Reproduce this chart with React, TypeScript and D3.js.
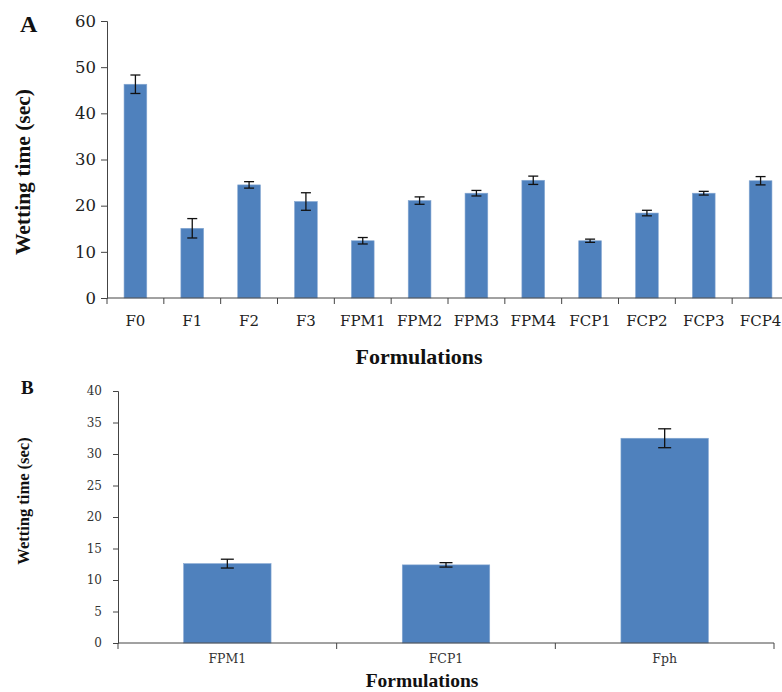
import React, { useEffect, useRef } from 'react';
import * as d3 from 'd3';

// panel A: all formulations
const catsA = ['F0', 'F1', 'F2', 'F3', 'FPM1', 'FPM2', 'FPM3', 'FPM4', 'FCP1', 'FCP2', 'FCP3', 'FCP4'];
const meansA = [46.3, 15.1, 24.5, 20.9, 12.4, 21.1, 22.7, 25.5, 12.4, 18.4, 22.7, 25.4];
const errA = [2.0, 2.1, 0.7, 1.9, 0.7, 0.8, 0.6, 0.9, 0.35, 0.6, 0.4, 0.9];
const ticksA = [0, 10, 20, 30, 40, 50, 60];

// panel B: optimised vs marketed
const catsB = ['FPM1', 'FCP1', 'Fph'];
const meansB = [12.6, 12.4, 32.5];
const errB = [0.7, 0.35, 1.5];
const ticksB = [0, 5, 10, 15, 20, 25, 30, 35, 40];

const BLUE = '#4f81bd';
const TIMES = '"Liberation Serif", serif';
const TICKF = '"DejaVu Serif", serif';

type Panel = {
  cats: string[];
  means: number[];
  errs: number[];
  ticks: number[];
  x0: number; x1: number; y0: number; y1: number;
  yFont: number; xFont: number; capW: number; yPad: number; yTick: number;
  xLabelY: number; tickColor: string;
};

function drawPanel(svg: d3.Selection<SVGSVGElement, unknown, null, undefined>, p: Panel) {
  const x = d3.scaleBand<string>().domain(p.cats).range([p.x0, p.x1]).padding(0);
  const y = d3.scaleLinear().domain([0, p.ticks[p.ticks.length - 1]]).range([p.y0, p.y1]);
  const bw = x.bandwidth();
  const g = svg.append('g');

  g.selectAll('rect.bar')
    .data(p.means)
    .enter()
    .append('rect')
    .attr('x', (_, i) => x(p.cats[i])! + bw * 0.3)
    .attr('width', bw * 0.4)
    .attr('y', (d) => y(d))
    .attr('height', (d) => y(0) - y(d))
    .attr('fill', BLUE)
    .attr('stroke', '#86a8d2')
    .attr('stroke-width', 0.6);

  // error bars
  const eb = g.selectAll('g.err').data(p.means).enter().append('g');
  eb.append('line')
    .attr('x1', (_, i) => x(p.cats[i])! + bw / 2)
    .attr('x2', (_, i) => x(p.cats[i])! + bw / 2)
    .attr('y1', (d, i) => y(d + p.errs[i]))
    .attr('y2', (d, i) => y(d - p.errs[i]))
    .attr('stroke', '#111').attr('stroke-width', 1.3);
  [1, -1].forEach((s) => {
    eb.append('line')
      .attr('x1', (_, i) => x(p.cats[i])! + bw / 2 - p.capW / 2)
      .attr('x2', (_, i) => x(p.cats[i])! + bw / 2 + p.capW / 2)
      .attr('y1', (d, i) => y(d + s * p.errs[i]))
      .attr('y2', (d, i) => y(d + s * p.errs[i]))
      .attr('stroke', '#111').attr('stroke-width', 1.3);
  });

  // y axis
  const ya = g.append('g')
    .attr('transform', `translate(${p.x0},0)`)
    .call(d3.axisLeft(y).tickValues(p.ticks).tickSize(p.yTick).tickPadding(p.yPad));
  ya.selectAll('path, line').attr('stroke', '#444');
  ya.selectAll('text').attr('font-family', TICKF).attr('font-size', p.yFont).attr('fill', p.tickColor);

  // x axis: line + boundary ticks, labels centred in bands
  g.append('line')
    .attr('x1', p.x0).attr('x2', p.x1).attr('y1', p.y0).attr('y2', p.y0)
    .attr('stroke', '#444');
  const bounds = p.cats.map((c) => x(c)!).concat([p.x1]);
  g.selectAll('line.bt').data(bounds).enter().append('line')
    .attr('x1', (d) => d).attr('x2', (d) => d)
    .attr('y1', p.y0).attr('y2', p.y0 + 6)
    .attr('stroke', '#444');
  g.selectAll('text.xl').data(p.cats).enter().append('text')
    .attr('x', (d) => x(d)! + bw / 2)
    .attr('y', p.xLabelY)
    .attr('text-anchor', 'middle')
    .attr('font-family', TICKF)
    .attr('font-size', p.xFont)
    .attr('fill', p.tickColor)
    .text((d) => d);
}

const App: React.FC = () => {
  const ref = useRef<SVGSVGElement>(null);

  useEffect(() => {
    const svg = d3.select(ref.current!);
    svg.selectAll('*').remove();

    drawPanel(svg, {
      cats: catsA, means: meansA, errs: errA, ticks: ticksA,
      x0: 107, x1: 789, y0: 298, y1: 21,
      yFont: 16.5, xFont: 15, capW: 10, yPad: 5, yTick: 6,
      xLabelY: 326, tickColor: '#222',
    });
    drawPanel(svg, {
      cats: catsB, means: meansB, errs: errB, ticks: ticksB,
      x0: 118, x1: 774, y0: 643, y1: 391,
      yFont: 12, xFont: 12.5, capW: 13, yPad: 11, yTick: 5,
      xLabelY: 663, tickColor: '#333',
    });

    const label = (t: string, x: number, y: number, size: number, rot = false, anchor = 'middle') => {
      const el = svg.append('text')
        .attr('font-family', TIMES)
        .attr('font-weight', 'bold')
        .attr('font-size', size)
        .attr('text-anchor', anchor)
        .attr('fill', '#111')
        .text(t);
      if (rot) el.attr('transform', `translate(${x},${y}) rotate(-90)`);
      else el.attr('x', x).attr('y', y);
    };
    label('A', 20, 32, 24, false, 'start');
    label('Wetting time (sec)', 30, 172, 21.5, true);
    label('Formulations', 419, 364, 22);
    label('B', 21, 394, 19, false, 'start');
    label('Wetting time (sec)', 29, 501, 16.5, true);
    label('Formulations', 422, 687, 19.5);
  }, []);

  return (
    <svg
      ref={ref}
      width={782}
      height={692}
      style={{ position: 'absolute', left: 0, top: 0, background: '#fff' }}
    />
  );
};

export default App;
